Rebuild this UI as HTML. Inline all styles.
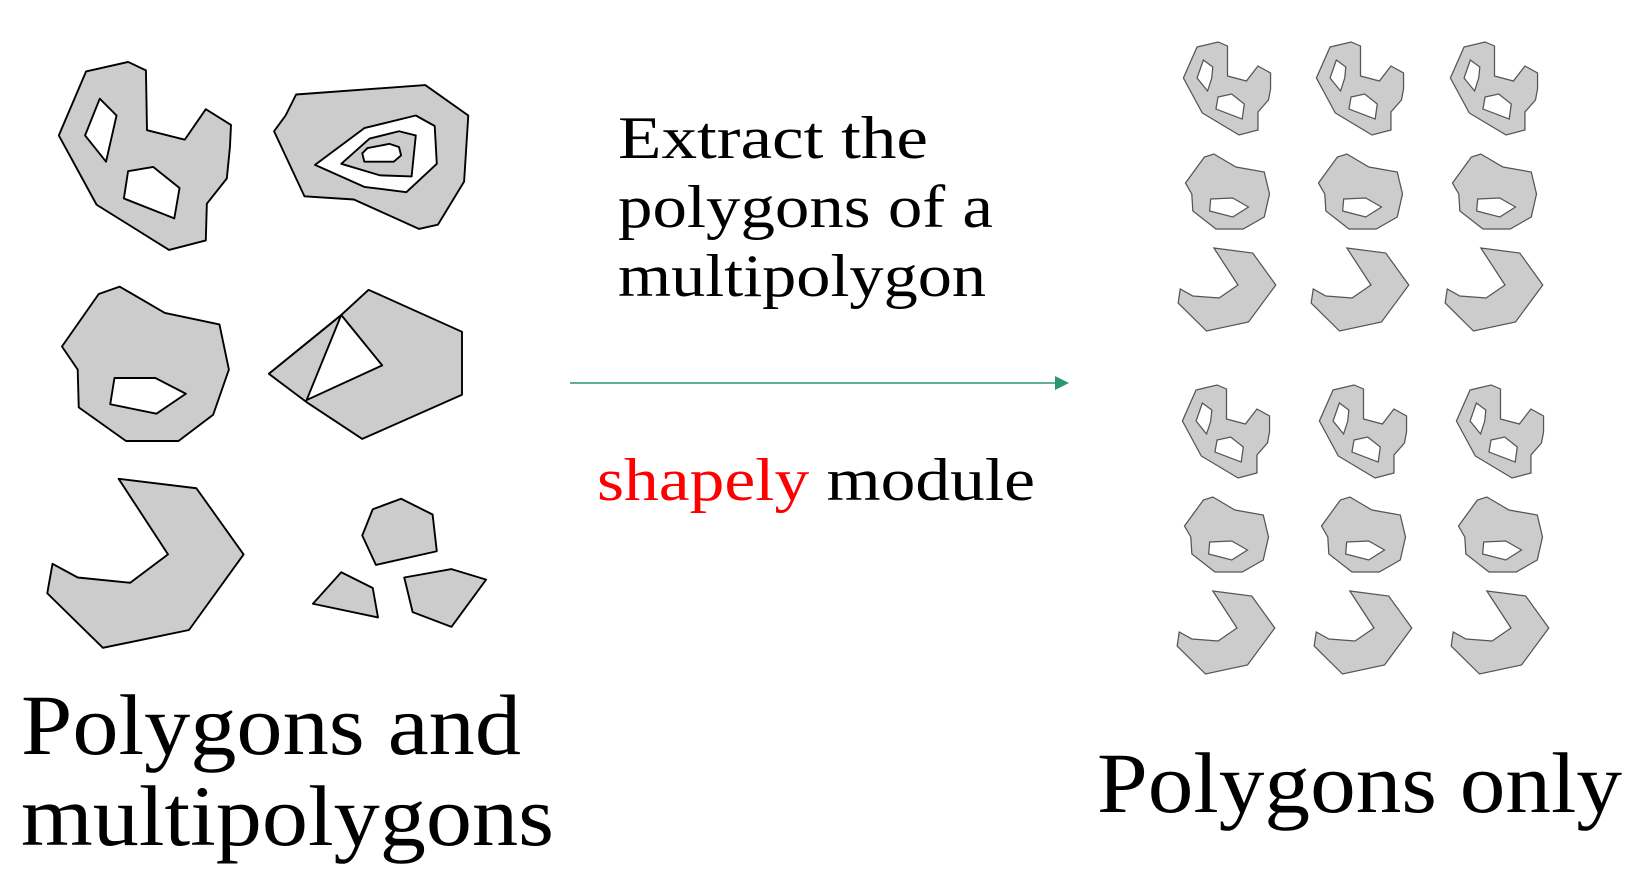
<!DOCTYPE html>
<html><head><meta charset="utf-8"><style>
html,body{margin:0;padding:0;background:#fff;}
svg{display:block;}
text{font-family:"Liberation Serif",serif;}
</style></head><body>
<svg width="1640" height="874" viewBox="0 0 1640 874" xmlns="http://www.w3.org/2000/svg">
<defs>
<g id="sA">
<path fill-rule="evenodd" fill="#cccccc" stroke="#555" stroke-width="1.2" d="M1193,47 L1213,42 L1222,46 L1222,76 L1240,81 L1251,66 L1263,73 L1263,89 L1261,100 L1251,112 L1251,130 L1233,135 L1198,113 L1180,78 Z M1199,60 L1208,67 L1207,78 L1203,91 L1193,78 Z M1213,97 L1226,94 L1238,104 L1236,119 L1211,109 Z"/>
<path fill-rule="evenodd" fill="#cccccc" stroke="#555" stroke-width="1.2" d="M1182,183 L1200,157 L1209,154 L1230,167 L1257,172 L1262,194 L1257,217 L1237,229 L1211,229 L1189,211 L1188,194 Z M1206,199 L1227,198 L1242,207 L1227,217 L1205,211 Z"/>
<path fill="#cccccc" stroke="#555" stroke-width="1.2" d="M1209,248 L1246,253 L1268,285 L1242,322 L1202,331 L1175,303 L1177,289 L1189,296 L1214,298 L1232,285 Z"/>
</g>
<g id="sB" transform="translate(1175,0) scale(1.05,1) translate(-1175,0) translate(3,0)"><use href="#sA"/></g>
</defs>
<use href="#sB"/>
<use href="#sB" transform="translate(133,0)"/>
<use href="#sB" transform="translate(267,0)"/>
<use href="#sB" transform="translate(-1,343)"/>
<use href="#sB" transform="translate(136,343)"/>
<use href="#sB" transform="translate(273,343)"/>

<g transform="scale(1.05)" stroke="#000" stroke-width="1.8" stroke-linejoin="round">
<path fill-rule="evenodd" fill="#cccccc" d="M82,68 L122,59 L139,67 L140,124 L176,133 L196,104 L220,119 L219,140 L216,170 L197,194 L196,229 L161,238 L92,195 L56,129 Z M95,94 L111,110 L101,154 L81,129 Z M122,163 L146,159 L171,179 L166,208 L118,189 Z"/>
<path fill-rule="evenodd" fill="#cccccc" d="M282,90 L405,81 L446,110 L442,173 L417,214 L399,218 L337,190 L290,187 L261,125 L272,110 Z M300,157 L347,122 L396,110 L414,120 L416,156 L387,183 L347,178 Z"/>
<path fill-rule="evenodd" fill="#cccccc" d="M325,156 L352,132 L380,125 L396,129 L392,168 L362,167 Z M345,146 L350,141 L371,137 L380,140 L382,148 L375,154 L347,154 Z"/>
<path fill-rule="evenodd" fill="#cccccc" d="M94,280 L114,273 L157,298 L209,309 L218,352 L203,395 L170,420 L120,420 L75,388 L74,352 L59,330 Z M109,360 L148,360 L177,375 L149,394 L105,385 Z"/>
<path fill="#cccccc" d="M256,356 L325,300 L351,276 L440,316 L440,376 L345,418 L292,383 Z"/>
<path fill="#fff" d="M325,300 L364,348 L292,381 Z"/>
<path fill="none" d="M256,356 L325,300"/>
<path fill="#cccccc" d="M113,456 L187,465 L232,528 L180,600 L98,617 L45,565 L50,537 L74,550 L124,555 L160,528 Z"/>
<path fill="#cccccc" d="M355,485 L382,475 L412,490 L416,525 L358,538 L345,510 Z"/>
<path fill="#cccccc" d="M298,575 L325,545 L355,560 L360,588 Z"/>
<path fill="#cccccc" d="M385,550 L430,542 L463,552 L430,597 L393,583 Z"/>
</g>

<line x1="570" y1="383" x2="1058" y2="383" stroke="#2a9676" stroke-width="1.5"/>
<path d="M1055,376 L1069,383 L1055,390 Z" fill="#2a9676"/>

<text x="618" y="158" font-size="60" textLength="310" lengthAdjust="spacingAndGlyphs">Extract the</text>
<text x="618" y="227" font-size="60" textLength="375" lengthAdjust="spacingAndGlyphs">polygons of a</text>
<text x="618" y="296" font-size="60" textLength="368" lengthAdjust="spacingAndGlyphs">multipolygon</text>
<text x="597" y="500" font-size="60" textLength="438" lengthAdjust="spacingAndGlyphs"><tspan fill="#ff0000">shapely</tspan> module</text>

<text x="21" y="754" font-size="86" textLength="500" lengthAdjust="spacingAndGlyphs">Polygons and</text>
<text x="21" y="845" font-size="86" textLength="533" lengthAdjust="spacingAndGlyphs">multipolygons</text>
<text x="1097" y="812" font-size="86" textLength="525" lengthAdjust="spacingAndGlyphs">Polygons only</text>
</svg>
</body></html>
